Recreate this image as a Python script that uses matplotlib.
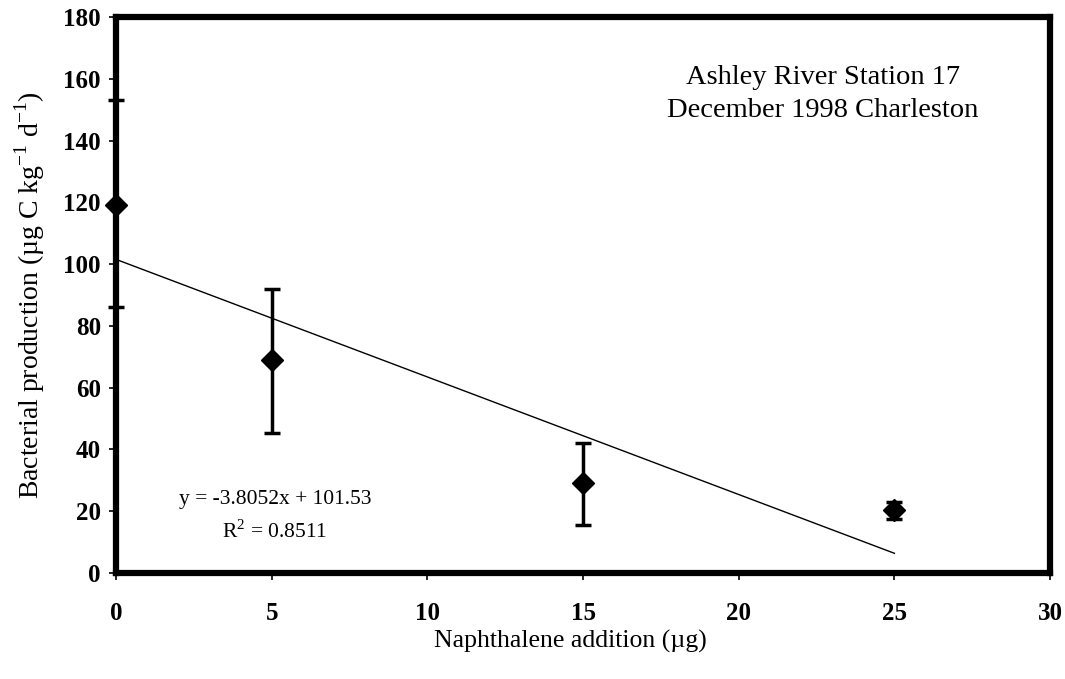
import matplotlib
matplotlib.use("Agg")
import matplotlib.pyplot as plt
import numpy as np

naphthalene = [0, 5, 15, 25]
production = [119, 69, 29, 20.5]
err_low = [86, 45.5, 15.5, 17.5]
err_high = [153, 92, 42, 23]
slope, intercept = -3.8052, 101.53
fit_x = [0, 25]

plt.rcParams['font.family'] = ['Liberation Serif', 'DejaVu Serif']
plt.rcParams['mathtext.fontset'] = 'custom'
plt.rcParams['mathtext.rm'] = 'Liberation Serif'

fig = plt.figure(figsize=(10.65, 6.79), dpi=100)
ax = fig.add_axes([0.109, 0.156, 0.877, 0.819])

y = np.array(production)
yerr = [y - np.array(err_low), np.array(err_high) - y]
ax.errorbar(naphthalene, production, yerr=yerr, fmt='D', color='black',
            markersize=11, capsize=6, capthick=2.5, elinewidth=2.5,
            clip_on=False, zorder=5)

fx = np.array(fit_x, dtype=float)
ax.plot(fx, slope * fx + intercept, color='black', linewidth=1)

ax.set_xlim(0, 30)
ax.set_ylim(0, 180)
ax.set_xticks(np.arange(0, 31, 5))
ax.set_yticks(np.arange(0, 181, 20))
for sp in ax.spines.values():
    sp.set_linewidth(4.5)
ax.tick_params(axis='both', direction='out', length=5, width=1.2, labelsize=18)
ax.tick_params(axis='x', pad=16)
ax.tick_params(axis='y', pad=6)
for lab in ax.get_xticklabels() + ax.get_yticklabels():
    lab.set_fontweight('bold')

ax.set_xlabel('Naphthalene addition (µg)', fontsize=18.5, labelpad=2)
ax.xaxis.set_label_coords(0.486, -0.103)
ax.set_ylabel('Bacterial production (µg C kg$^{-1}$ d$^{-1}$)', fontsize=20, labelpad=12)

ax.text(22.7, 164.5, 'Ashley River Station 17\nDecember 1998 Charleston',
        ha='center', va='top', fontsize=20.5, linespacing=1.45)
ax.text(5.1, 27, 'y = -3.8052x + 101.53\nR$^{2}$ = 0.8511', ha='center', va='top',
        fontsize=15.5, linespacing=1.65)

fig.savefig('out.png', dpi=100)
